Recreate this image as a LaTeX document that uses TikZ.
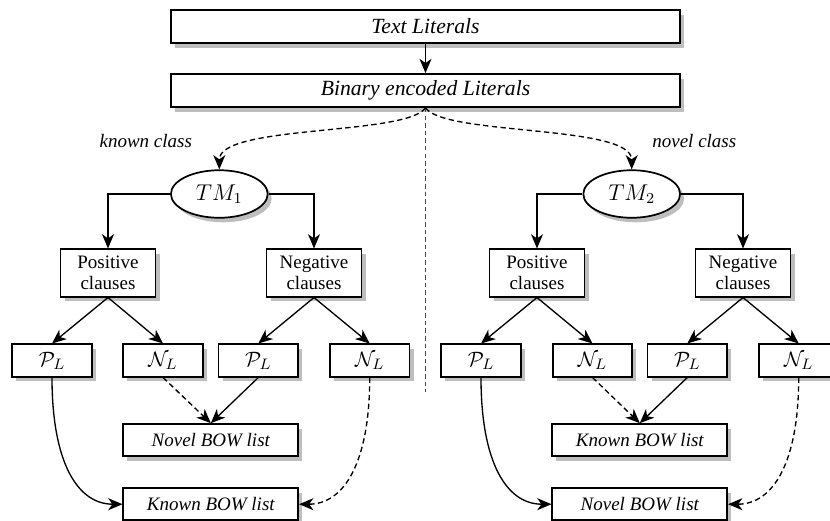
\documentclass[tikz,border=0pt]{standalone}
\usepackage{fontspec}
\setmainfont{Liberation Serif}
\usetikzlibrary{arrows.meta,shapes.geometric,calc}
\definecolor{shadowgray}{RGB}{190,190,190}
\definecolor{sepred}{RGB}{240,0,0}
\begin{document}
\begin{tikzpicture}[x=0.526pt,y=-0.526pt,
 basebox/.style={draw,line width=0.9pt,fill=white,inner sep=0pt},
 bigbox/.style={basebox,minimum width=267.7pt,minimum height=17.4pt,font=\fontsize{11.4}{13}\selectfont\itshape},
 tmnode/.style={basebox,ellipse,minimum width=50.9pt,minimum height=25pt,font=\large},
 clausebox/.style={basebox,minimum width=50pt,minimum height=24.9pt,align=center,font=\fontsize{10}{11}\selectfont},
 litbox/.style={basebox,minimum width=41.9pt,minimum height=17pt,font=\fontsize{11}{13}\selectfont},
 bowbox/.style={basebox,minimum width=92pt,minimum height=16.8pt,font=\fontsize{10}{12}\selectfont\itshape},
 lbl/.style={font=\fontsize{10}{12}\selectfont\itshape},
 arr/.style={line width=0.7pt,-{Stealth[length=7.5pt,width=6.3pt,inset=2.2pt]}},
 dsh/.style={dash pattern=on 2.8pt off 1.8pt},
 shadowfill/.style={fill=shadowgray,draw=none},
]
\path[use as bounding box,fill=white] (0,0) rectangle (830,520);

% drop shadows, drawn first (positions fixed by the node sizes)
\fill[shadowfill] (171+4,10+4.5) rectangle (680+4,43+4.5);
\fill[shadowfill] (171+4,74+4.5) rectangle (680+4,107+4.5);
\fill[shadowfill] (219.3+4,194+4.5) ellipse [x radius=48.4, y radius=23.8];
\fill[shadowfill] (631.7+4,194+4.5) ellipse [x radius=48.4, y radius=23.8];
\foreach \cx in {108,314,537,743}{
  \fill[shadowfill] (\cx-47.5+4,273-23.7+4.5) rectangle (\cx+47.5+4,273+23.7+4.5);
}
\foreach \cx in {52,163,258.3,369.7,481,592.5,687.3,798.7}{
  \fill[shadowfill] (\cx-39.8+4,360.5-16.2+4.5) rectangle (\cx+39.8+4,360.5+16.2+4.5);
}
\foreach \cx/\cy in {210.8/440,210.8/504.2,639.8/440,639.8/504.2}{
  \fill[shadowfill] (\cx-87.5+4,\cy-16+4.5) rectangle (\cx+87.5+4,\cy+16+4.5);
}

% top
\node[bigbox] (txt) at (425.5,26.5) {Text Literals};
\node[bigbox] (bin) at (425.5,90.5) {Binary encoded Literals};
\draw[arr] (txt.south) -- (bin.north);

% red separator
\coordinate (redend) at (425.5,392);
\draw[sepred,line width=1pt,dash pattern=on 2.4pt off 1.6pt] (bin.south) -- (redend);

% labels
\node[lbl] (kc) at (145.8,140.7) {known class};
\node[lbl] (nc) at (694.3,140.7) {novel class};

% TMs
\node[tmnode] (tm1) at (219.3,194) {$TM_1$};
\node[tmnode] (tm2) at (631.7,194) {$TM_2$};

\draw[arr,dsh] (bin.south) .. controls +(-20,28) and +(0,-45) .. (tm1.north);
\draw[arr,dsh] (bin.south) .. controls +(20,28) and +(0,-45) .. (tm2.north);

% clauses
\node[clausebox] (pos1) at (108,273) {Positive\\clauses};
\node[clausebox] (neg1) at (314,273) {Negative\\clauses};
\node[clausebox] (pos2) at (537,273) {Positive\\clauses};
\node[clausebox] (neg2) at (743,273) {Negative\\clauses};

\draw[arr] (tm1.west) -| (pos1.north);
\draw[arr] (tm1.east) -| (neg1.north);
\draw[arr] (tm2.west) -| (pos2.north);
\draw[arr] (tm2.east) -| (neg2.north);

% literal lists
\node[litbox] (pl1) at (52,360.5) {$\mathcal{P}_L$};
\node[litbox] (nl1) at (163,360.5) {$\mathcal{N}_L$};
\node[litbox] (pl2) at (258.3,360.5) {$\mathcal{P}_L$};
\node[litbox] (nl2) at (369.7,360.5) {$\mathcal{N}_L$};
\node[litbox] (pl3) at (481,360.5) {$\mathcal{P}_L$};
\node[litbox] (nl3) at (592.5,360.5) {$\mathcal{N}_L$};
\node[litbox] (pl4) at (687.3,360.5) {$\mathcal{P}_L$};
\node[litbox] (nl4) at (798.7,360.5) {$\mathcal{N}_L$};

\draw[arr] (pos1.south) -- (pl1.north);
\draw[arr] (pos1.south) -- (nl1.north);
\draw[arr] (neg1.south) -- (pl2.north);
\draw[arr] (neg1.south) -- (nl2.north);
\draw[arr] (pos2.south) -- (pl3.north);
\draw[arr] (pos2.south) -- (nl3.north);
\draw[arr] (neg2.south) -- (pl4.north);
\draw[arr] (neg2.south) -- (nl4.north);

% BOW lists
\node[bowbox] (novel1) at (210.8,440) {Novel BOW list};
\node[bowbox] (known1) at (210.8,504.2) {Known BOW list};
\node[bowbox] (known2) at (639.8,440) {Known BOW list};
\node[bowbox] (novel2) at (639.8,504.2) {Novel BOW list};

\draw[arr,dsh] (nl1.south) -- (novel1.north);
\draw[arr] (pl2.south) -- (novel1.north);
\draw[arr] (pl1.south) .. controls +(0,85) and +(-45,0) .. (known1.west);
\draw[arr,dsh] (nl2.south) .. controls +(0,85) and +(45,0) .. (known1.east);

\draw[arr,dsh] (nl3.south) -- (known2.north);
\draw[arr] (pl4.south) -- (known2.north);
\draw[arr] (pl3.south) .. controls +(0,85) and +(-45,0) .. (novel2.west);
\draw[arr,dsh] (nl4.south) .. controls +(0,85) and +(45,0) .. (novel2.east);
\end{tikzpicture}
\end{document}
